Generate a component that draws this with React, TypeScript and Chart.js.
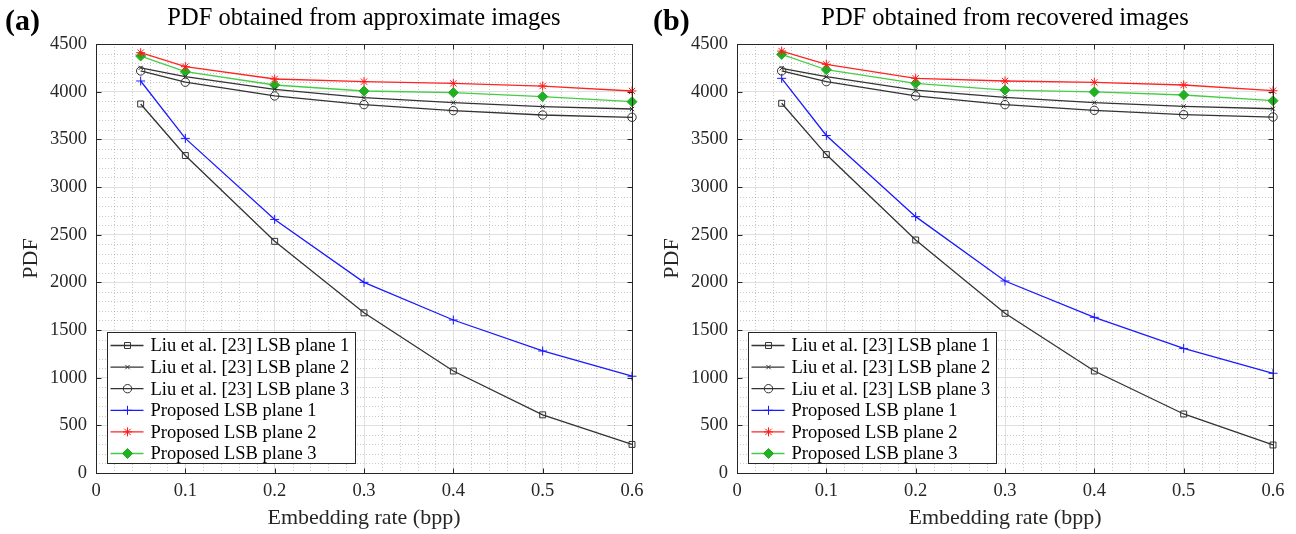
import React, { useEffect, useRef } from 'react';
import { Chart, registerables } from 'chart.js';
import { drawPoint } from 'chart.js/helpers';

Chart.register(...registerables);

// ---------------- data ----------------
const xRates = [0.05, 0.1, 0.2, 0.3, 0.4, 0.5, 0.6];
const xTickStep = 0.1;
const yTickStep = 500;
const xMax = 0.6;
const yMax = 4500;

const seriesNames = [
  'Liu et al. [23] LSB plane 1',
  'Liu et al. [23] LSB plane 2',
  'Liu et al. [23] LSB plane 3',
  'Proposed LSB plane 1',
  'Proposed LSB plane 2',
  'Proposed LSB plane 3',
];

// (a) approximate images
const approxLiu1 = [3871, 3330, 2430, 1680, 1070, 610, 300];
const approxLiu2 = [4250, 4157, 4025, 3937, 3885, 3843, 3818];
const approxLiu3 = [4217, 4099, 3955, 3864, 3801, 3755, 3731];
const approxProp1 = [4112, 3510, 2660, 2000, 1605, 1280, 1015];
const approxProp2 = [4409, 4262, 4133, 4105, 4087, 4059, 4007];
const approxProp3 = [4374, 4210, 4070, 4007, 3990, 3948, 3895];

// (b) recovered images
const recovLiu1 = [3878, 3340, 2444, 1675, 1070, 619, 294];
const recovLiu2 = [4245, 4157, 4017, 3941, 3885, 3846, 3821];
const recovLiu3 = [4217, 4105, 3955, 3864, 3804, 3759, 3734];
const recovProp1 = [4140, 3540, 2689, 2014, 1633, 1307, 1046];
const recovProp2 = [4426, 4287, 4140, 4112, 4098, 4070, 4010];
const recovProp3 = [4391, 4230, 4087, 4017, 3997, 3965, 3905];

const titleA = 'PDF obtained from approximate images';
const titleB = 'PDF obtained from recovered images';
const xTitle = 'Embedding rate (bpp)';
const yTitle = 'PDF';

// ---------------- styles ----------------
const FONT = "'Liberation Serif', 'Times New Roman', serif";
const TITLE_SIZE = 24.5;
const AXIS_TITLE_SIZE = 22;
const TICK_SIZE = 18.5;
const LEGEND_SIZE = 18.5;

const seriesStyles = [
  { line: '#333333', stroke: '#333333', fill: 'rgba(0,0,0,0)', pointStyle: 'rect', radius: 4.2 },
  { line: '#333333', stroke: '#333333', fill: 'rgba(0,0,0,0)', pointStyle: 'crossRot', radius: 3 },
  { line: '#333333', stroke: '#333333', fill: 'rgba(0,0,0,0)', pointStyle: 'circle', radius: 4.2 },
  { line: '#1a1aff', stroke: '#1a1aff', fill: 'rgba(0,0,0,0)', pointStyle: 'cross', radius: 4.5 },
  { line: '#ff2424', stroke: '#ff1a1a', fill: 'rgba(0,0,0,0)', pointStyle: 'star', radius: 4.5 },
  { line: '#45cc45', stroke: '#22b022', fill: '#22b022', pointStyle: 'rectRot', radius: 5 },
];

type PanelProps = {
  label: string;
  title: string;
  series: number[][];
  plotLeft: number;
  plotRight: number;
  yTitlePad: number;
};

const CANVAS_W = 648;
const CANVAS_H = 534;
const PLOT_TOP = 44;
const PLOT_BOTTOM = 473;

function line(ctx: CanvasRenderingContext2D, x1: number, y1: number, x2: number, y2: number) {
  ctx.beginPath();
  ctx.moveTo(x1, y1);
  ctx.lineTo(x2, y2);
  ctx.stroke();
}

function makePlugin(label: string) {
  return {
    id: 'matlabDecor',
    beforeDatasetsDraw(chart: any) {
      const { ctx, chartArea: a, scales } = chart;
      const xs = scales.x;
      const ys = scales.y;
      ctx.save();
      ctx.strokeStyle = 'rgba(60,60,60,0.28)';
      ctx.lineWidth = 1;
      ctx.setLineDash([1, 2]);
      const nx = Math.round(xMax / 0.02);
      for (let i = 1; i < nx; i++) {
        if (i % 5 === 0) continue;
        const px = Math.round(xs.getPixelForValue(i * 0.02)) + 0.5;
        line(ctx, px, a.top, px, a.bottom);
      }
      const ny = Math.round(yMax / 100);
      for (let j = 1; j < ny; j++) {
        if (j % 5 === 0) continue;
        const py = Math.round(ys.getPixelForValue(j * 100)) + 0.5;
        line(ctx, a.left, py, a.right, py);
      }
      ctx.restore();
    },
    afterDatasetsDraw(chart: any) {
      const { ctx, chartArea: a, scales } = chart;
      const xs = scales.x;
      const ys = scales.y;
      ctx.save();
      ctx.strokeStyle = '#262626';
      ctx.lineWidth = 1;
      ctx.setLineDash([]);
      const L = Math.round(a.left) + 0.5;
      const R = Math.round(a.right) + 0.5;
      const T = Math.round(a.top) + 0.5;
      const B = Math.round(a.bottom) + 0.5;
      ctx.strokeRect(L, T, R - L, B - T);
      const tl = 5;
      const nxt = Math.round(xMax / xTickStep);
      for (let i = 1; i < nxt; i++) {
        const px = Math.round(xs.getPixelForValue(i * xTickStep)) + 0.5;
        line(ctx, px, B, px, B - tl);
        line(ctx, px, T, px, T + tl);
      }
      const nyt = Math.round(yMax / yTickStep);
      for (let j = 1; j < nyt; j++) {
        const py = Math.round(ys.getPixelForValue(j * yTickStep)) + 0.5;
        line(ctx, L, py, L + tl, py);
        line(ctx, R, py, R - tl, py);
      }
      ctx.restore();
    },
    afterDraw(chart: any) {
      const { ctx, chartArea: a } = chart;
      ctx.save();
      // legend box
      const bx = Math.round(a.left) + 11 + 0.5;
      const bw = 248;
      const bh = 131;
      const by = Math.round(a.bottom) - 10 - bh + 0.5;
      ctx.fillStyle = '#ffffff';
      ctx.fillRect(bx, by, bw, bh);
      ctx.strokeStyle = '#262626';
      ctx.lineWidth = 1;
      ctx.strokeRect(bx, by, bw, bh);
      ctx.font = `${LEGEND_SIZE}px ${FONT}`;
      ctx.textBaseline = 'middle';
      ctx.textAlign = 'left';
      seriesNames.forEach((name, i) => {
        const st = seriesStyles[i];
        const cy = by + 13 + i * 21.6;
        ctx.strokeStyle = st.line;
        ctx.lineWidth = 1.3;
        line(ctx, bx + 3, cy, bx + 36, cy);
        ctx.strokeStyle = st.stroke;
        ctx.fillStyle = st.fill;
        ctx.lineWidth = 1;
        drawPoint(ctx, { pointStyle: st.pointStyle as any, radius: st.radius, rotation: 0, borderWidth: 1 } as any, bx + 20, cy);
        ctx.fillStyle = '#000000';
        ctx.fillText(name, bx + 43, cy + 1);
      });
      // panel label
      ctx.font = `bold 30px ${FONT}`;
      ctx.fillStyle = '#000000';
      ctx.textBaseline = 'alphabetic';
      ctx.fillText(label, 5, 30);
      ctx.restore();
    },
  };
}

function Panel({ label, title, series, plotLeft, plotRight, yTitlePad }: PanelProps) {
  const ref = useRef<HTMLCanvasElement | null>(null);
  useEffect(() => {
    if (!ref.current) return;
    const datasets = series.map((vals, i) => {
      const st = seriesStyles[i];
      return {
        label: seriesNames[i],
        data: xRates.map((x, k) => ({ x, y: vals[k] })),
        borderColor: st.line,
        borderWidth: 1.3,
        pointStyle: st.pointStyle as any,
        pointRadius: st.radius,
        pointBorderColor: st.stroke,
        pointBackgroundColor: st.fill,
        pointBorderWidth: 1,
        tension: 0,
        fill: false,
        clip: false as any,
      };
    });
    const chart = new Chart(ref.current, {
      type: 'line',
      data: { datasets },
      options: {
        responsive: false,
        animation: false,
        devicePixelRatio: 1,
        layout: { padding: { left: 0, right: CANVAS_W - plotRight, top: 0, bottom: 0 } },
        plugins: {
          legend: { display: false },
          tooltip: { enabled: false },
          title: {
            display: true,
            text: title,
            fullSize: false,
            color: '#000000',
            font: { family: FONT, size: TITLE_SIZE, weight: 'normal' as any },
            padding: { top: 4, bottom: PLOT_TOP - 4 - TITLE_SIZE * 1.2 },
          },
        },
        scales: {
          x: {
            type: 'linear',
            min: 0,
            max: xMax,
            afterFit: (s: any) => {
              s.height = CANVAS_H - PLOT_BOTTOM;
              s.paddingLeft = 0;
              s.paddingRight = 0;
            },
            ticks: {
              stepSize: xTickStep,
              color: '#262626',
              font: { family: FONT, size: TICK_SIZE },
              padding: 7,
              maxRotation: 0,
              callback: (v: any) => String(Number(Number(v).toFixed(2))),
            },
            grid: { color: '#e0e0e0', lineWidth: 1, drawTicks: false },
            border: { display: false },
            title: {
              display: true,
              text: xTitle,
              color: '#262626',
              font: { family: FONT, size: AXIS_TITLE_SIZE },
              padding: { top: 0, bottom: 3 },
            },
          },
          y: {
            type: 'linear',
            min: 0,
            max: yMax,
            afterFit: (s: any) => {
              s.width = plotLeft;
              s.paddingTop = 0;
              s.paddingBottom = 0;
            },
            ticks: {
              stepSize: yTickStep,
              color: '#262626',
              font: { family: FONT, size: TICK_SIZE },
              padding: 9,
              callback: (v: any) => String(v),
            },
            grid: { color: '#e0e0e0', lineWidth: 1, drawTicks: false },
            border: { display: false },
            title: {
              display: true,
              text: yTitle,
              color: '#262626',
              font: { family: FONT, size: AXIS_TITLE_SIZE },
              padding: { top: yTitlePad, bottom: 0 },
            },
          },
        },
      },
      plugins: [makePlugin(label)],
    });
    return () => chart.destroy();
  }, [label, title, series, plotLeft, plotRight, yTitlePad]);
  return <canvas ref={ref} width={CANVAS_W} height={CANVAS_H} style={{ display: 'block', width: CANVAS_W, height: CANVAS_H }} />;
}

const seriesA = [approxLiu1, approxLiu2, approxLiu3, approxProp1, approxProp2, approxProp3];
const seriesB = [recovLiu1, recovLiu2, recovLiu3, recovProp1, recovProp2, recovProp3];

export default function App() {
  return (
    <div style={{ position: 'fixed', left: 0, top: 0, width: 1296, height: 534, display: 'flex', background: '#ffffff' }}>
      <Panel label="(a)" title={titleA} series={seriesA} plotLeft={96} plotRight={632} yTitlePad={18} />
      <Panel label="(b)" title={titleB} series={seriesB} plotLeft={89} plotRight={625} yTitlePad={11} />
    </div>
  );
}
